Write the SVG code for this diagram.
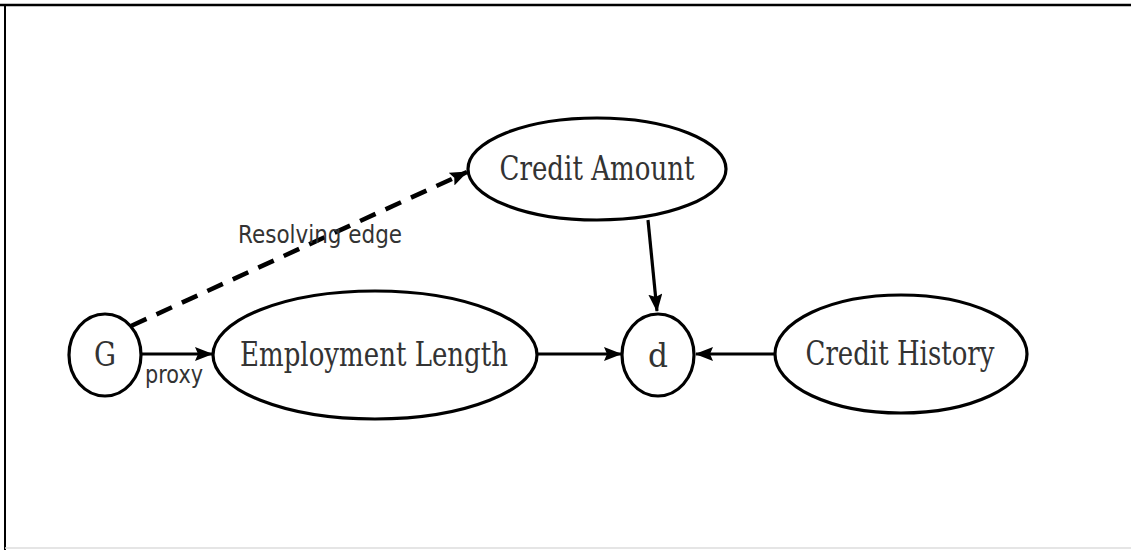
<svg xmlns="http://www.w3.org/2000/svg" width="1131" height="550" viewBox="0 0 1131 550">
<defs>
<marker id="arr" viewBox="0 0 18 14" refX="17" refY="7" markerWidth="18" markerHeight="14" markerUnits="userSpaceOnUse" orient="auto">
<path d="M0,0 L18,7 L0,14 L3,7 Z" fill="#000"/>
</marker>
</defs>
<style>
.node{fill:#fff;stroke:#000;stroke-width:3.2}
.lbl{font-family:"DejaVu Serif","Liberation Serif",serif;font-size:34px;fill:#333;text-anchor:middle}
.edge{stroke:#000;stroke-width:3.2;fill:none;marker-end:url(#arr)}
.dash{stroke-width:4.5;stroke-dasharray:17,11}
.elbl{font-family:"DejaVu Sans","Liberation Sans",sans-serif;font-size:24px;fill:#333}
</style>
<rect width="1131" height="550" fill="#fff"/>
<line x1="0" y1="5" x2="1131" y2="5" stroke="#000" stroke-width="2.5"/>
<line x1="5" y1="5" x2="5" y2="550" stroke="#000" stroke-width="2"/>
<line x1="5" y1="548" x2="1131" y2="548" stroke="#ddd" stroke-width="1.5"/>
<g id="edges">
<line class="edge" x1="142" y1="354" x2="212" y2="354"/>
<line class="edge dash" x1="131" y1="326" x2="467" y2="172"/>
<line class="edge" x1="537" y1="354" x2="621" y2="354"/>
<line class="edge" x1="775" y1="354" x2="696" y2="354"/>
<line class="edge" x1="648" y1="220" x2="657" y2="311"/>
<text class="elbl" x="238" y="243" textLength="164" lengthAdjust="spacingAndGlyphs">Resolving edge</text>
<text class="elbl" x="145" y="383" textLength="58" lengthAdjust="spacingAndGlyphs">proxy</text>
</g>
<g id="G">
<ellipse class="node" cx="105" cy="355" rx="36" ry="41"/>
<text class="lbl" x="105" y="366" textLength="22" lengthAdjust="spacingAndGlyphs">G</text>
</g>
<g id="EmploymentLength">
<ellipse class="node" cx="375" cy="355" rx="162" ry="64"/>
<text class="lbl" x="374" y="366" textLength="268" lengthAdjust="spacingAndGlyphs">Employment Length</text>
</g>
<g id="CreditAmount">
<ellipse class="node" cx="597" cy="169" rx="129" ry="51"/>
<text class="lbl" x="597" y="180" textLength="195" lengthAdjust="spacingAndGlyphs">Credit Amount</text>
</g>
<g id="d">
<ellipse class="node" cx="658" cy="355" rx="36" ry="41"/>
<text class="lbl" x="658" y="367" textLength="20" lengthAdjust="spacingAndGlyphs">d</text>
</g>
<g id="CreditHistory">
<ellipse class="node" cx="901" cy="354" rx="126" ry="59"/>
<text class="lbl" x="900" y="365" textLength="189" lengthAdjust="spacingAndGlyphs">Credit History</text>
</g>
</svg>
